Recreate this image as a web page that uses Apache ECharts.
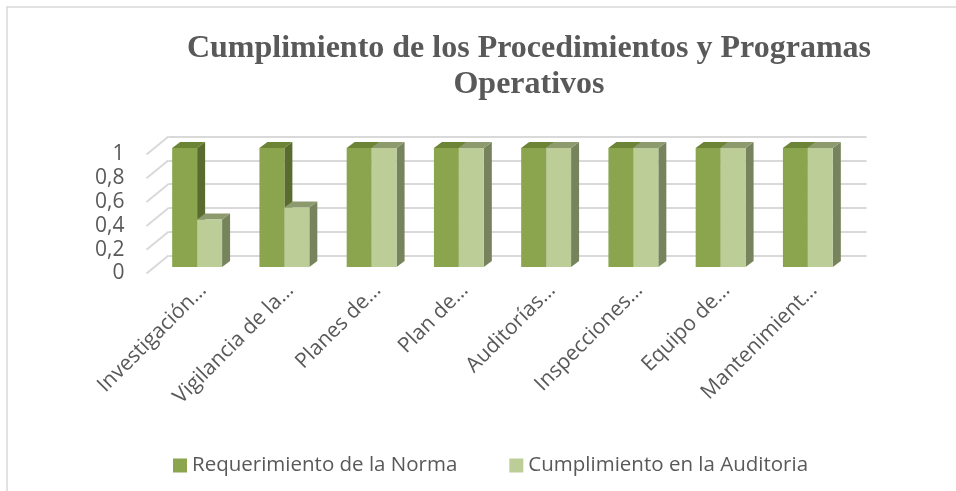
<!DOCTYPE html>
<html>
<head>
<meta charset="utf-8">
<script src="https://cdn.jsdelivr.net/npm/echarts@6/dist/echarts.min.js"></script>
<style>
  html, body { margin: 0; padding: 0; background: #fff; }
  #chart { width: 956px; height: 491px; }
</style>
</head>
<body>
<div id="chart"></div>
<script>
// datos
const categories = ['Investigación…', 'Vigilancia de la…', 'Planes de…', 'Plan de…', 'Auditorías…', 'Inspecciones…', 'Equipo de…', 'Mantenimient…'];
const requerimiento = [1, 1, 1, 1, 1, 1, 1, 1];
const cumplimiento = [0.4, 0.5, 1, 1, 1, 1, 1, 1];
const yTicks = [0, 0.2, 0.4, 0.6, 0.8, 1];
const seriesNames = ['Requerimiento de la Norma', 'Cumplimiento en la Auditoria'];

const textColor = '#595959';
const gridColor = '#d9d9d9';
// profundidad del efecto 3D (pixeles)
const wallDx = 22, wallDy = 18;
const barDx = 8, barDy = 6;

function bar3d (side, front, topC, sideC) {
  return function (params, api) {
    const idx = api.value(0);
    const top = api.coord([idx, api.value(1)]);
    const base = api.coord([idx, 0]);
    const w = api.size([1, 0])[0] * 0.286;
    const x0 = side === 0 ? top[0] - w : top[0];
    const x1 = x0 + w;
    return {
      type: 'group',
      children: [
        { type: 'polygon', shape: { points: [[x1, top[1]], [x1 + barDx, top[1] - barDy], [x1 + barDx, base[1] - barDy], [x1, base[1]]] }, style: { fill: sideC } },
        { type: 'polygon', shape: { points: [[x0, top[1]], [x1, top[1]], [x1 + barDx, top[1] - barDy], [x0 + barDx, top[1] - barDy]] }, style: { fill: topC } },
        { type: 'rect', shape: { x: x0, y: top[1], width: w, height: base[1] - top[1] }, style: { fill: front } }
      ]
    }
  }
}

const chart = echarts.init(document.getElementById('chart'))
const option = {
  animation: false,
  backgroundColor: '#fff',
  graphic: [{
    type: 'rect', silent: true,
    shape: { x: 7, y: 7, width: 1000, height: 1000 },
    style: { fill: null, stroke: gridColor, lineWidth: 1.5 }
  }],
  title: {
    text: 'Cumplimiento de los Procedimientos y Programas\nOperativos',
    left: 524, top: 26, textAlign: 'center', textVerticalAlign: 'top',
    textStyle: { fontFamily: 'Liberation Serif', fontWeight: 'bold', fontSize: 32, lineHeight: 36, color: textColor }
  },
  legend: {
    left: 168, top: 450,
    itemWidth: 14, itemHeight: 14, itemGap: 52, icon: 'rect',
    data: seriesNames,
    textStyle: { fontFamily: 'Open Sans', fontSize: 20.5, color: textColor }
  },
  grid: [
    // cara frontal de las barras
    { left: 153.5, top: 148, width: 698, height: 119 },
    // plano frontal (etiquetas del eje Y)
    { left: 146.5, top: 154.5, width: 698, height: 119 },
    // pared del fondo
    { left: 146.5 + wallDx, top: 154.5 - wallDy, width: 698, height: 119 },
    // etiquetas del eje X
    { left: 159.5, top: 148, width: 698, height: 119 }
  ],
  xAxis: [
    { gridIndex: 0, type: 'category', data: categories, show: false },
    { gridIndex: 1, type: 'value', min: 0, max: 1, show: false },
    { gridIndex: 2, type: 'category', data: categories, show: false },
    {
      gridIndex: 3, type: 'category', data: categories,
      axisLine: { show: false }, axisTick: { show: false },
      axisLabel: { interval: 0, rotate: 45, margin: 20, fontFamily: 'Open Sans', fontSize: 21, color: textColor }
    }
  ],
  yAxis: [
    { gridIndex: 0, type: 'value', min: 0, max: 1, interval: 0.2, show: false },
    {
      gridIndex: 1, type: 'value', min: 0, max: 1, interval: 0.2,
      axisLine: { show: false }, axisTick: { show: false }, splitLine: { show: false },
      axisLabel: {
        margin: 22, fontFamily: 'Open Sans', fontSize: 21, color: textColor,
        formatter: v => String(Math.round(v * 10) / 10).replace('.', ',')
      }
    },
    {
      gridIndex: 2, type: 'value', min: 0, max: 1, interval: 0.2,
      axisLine: { show: false }, axisTick: { show: false }, axisLabel: { show: false },
      splitLine: { lineStyle: { color: gridColor, width: 2 } }
    },
    { gridIndex: 3, type: 'value', min: 0, max: 1, show: false }
  ],
  series: [
    {
      // pared lateral izquierda
      type: 'custom', xAxisIndex: 1, yAxisIndex: 1, silent: true,
      data: yTicks.map(t => [0, t]),
      renderItem: function (params, api) {
        const p = api.coord([0, api.value(1)])
        return { type: 'line', shape: { x1: p[0], y1: p[1], x2: p[0] + wallDx, y2: p[1] - wallDy }, style: { stroke: gridColor, lineWidth: 2 } }
      }
    },
    {
      name: seriesNames[0], type: 'custom', xAxisIndex: 0, yAxisIndex: 0,
      itemStyle: { color: '#8aa54e' },
      data: requerimiento.map((v, i) => [i, v]),
      renderItem: bar3d(0, '#8aa54e', '#6b8436', '#5a6b30')
    },
    {
      name: seriesNames[1], type: 'custom', xAxisIndex: 0, yAxisIndex: 0,
      itemStyle: { color: '#bccd97' },
      data: cumplimiento.map((v, i) => [i, v]),
      renderItem: bar3d(1, '#bccd97', '#8d9a6e', '#76835c')
    }
  ]
}
chart.setOption(option)
</script>
</body>
</html>
